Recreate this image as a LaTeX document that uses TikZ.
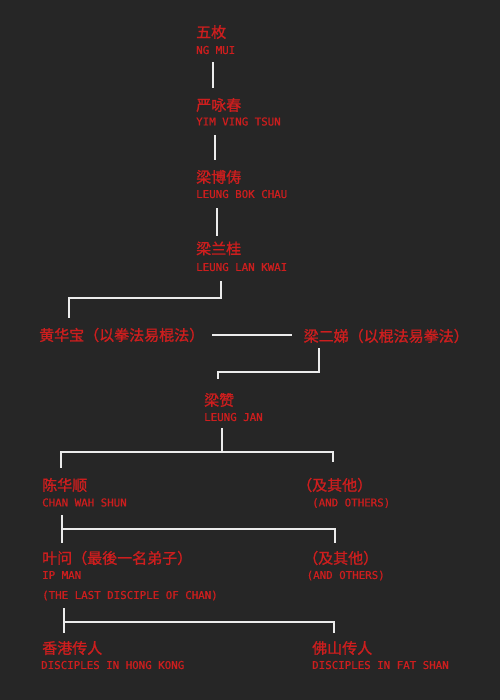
\documentclass[tikz,border=0pt]{standalone}
\usepackage{fontspec}
\usepackage{tikz}
\usetikzlibrary{positioning, calc}
\newfontfamily\zhfont[FakeBold=1.2]{Noto Sans CJK SC}
\newfontfamily\enfont[FakeBold=0.7]{DejaVu Sans Mono}
\definecolor{bgdark}{RGB}{38,38,38}
\definecolor{namered}{RGB}{205,30,30}
\definecolor{linewhite}{RGB}{235,235,235}

\begin{document}
\begin{tikzpicture}[x=1pt, y=-1pt,
    zh/.style={anchor=west, inner sep=0pt, text=namered,
        font=\zhfont\fontsize{15}{15}\selectfont, text height=13.2pt, text depth=1.8pt},
    en/.style={anchor=west, inner sep=0pt, text=namered,
        font=\enfont\fontsize{10.8}{10.8}\selectfont, text height=7.9pt, text depth=0pt},
    link/.style={draw=linewhite, line width=2pt}]
    \fill[bgdark] (0,0) rectangle (500,700);

    % the early line, one master after the other
    \node[zh] (ngmui) at (196,32) {五枚};
    \node[en] (ngmuiE) at (196,50) {NG MUI};
    \node[zh] (yim) at (196,105) {严咏春};
    \node[en] (yimE) at (196,121.5) {YIM VING TSUN};
    \node[zh] (bokchau) at (196,177) {梁博俦};
    \node[en] (bokchauE) at (196,194) {LEUNG BOK CHAU};
    \node[zh] (lankwai) at (196,248.5) {梁兰桂};
    \node[en] (lankwaiE) at (196,267) {LEUNG LAN KWAI};

    \draw[link, shorten <=8pt, shorten >=9.5pt]
        ([xshift=17pt]ngmuiE.south west) -- ([xshift=17pt]yim.north west);
    \draw[link, shorten <=9.5pt, shorten >=9.5pt]
        ([xshift=19pt]yimE.south west) -- ([xshift=19pt]bokchau.north west);
    \draw[link, shorten <=10pt, shorten >=5pt]
        ([xshift=21pt]bokchauE.south west) -- ([xshift=21pt]lankwai.north west);

    % the two who swapped their methods
    \node[zh] (wongwahbo) at (39,335) {黄华宝（以拳法易棍法）};
    \node[zh] (leungyitai) at (303.5,336) {梁二娣（以棍法易拳法）};

    \draw[link] ([xshift=25pt,yshift=-10pt]lankwaiE.south west) -- ++(0,17)
        -| ([xshift=30pt,yshift=9.5pt]wongwahbo.north west);
    \draw[link, shorten <=8pt, shorten >=11.5pt]
        (wongwahbo.east) -- (leungyitai.west |- wongwahbo.east);

    \node[zh] (leungjan) at (204,400) {梁赞};
    \node[en] (leungjanE) at (204,417) {LEUNG JAN};

    \draw[link] ([xshift=15.5pt,yshift=-4.5pt]leungyitai.south west) -- ++(0,24)
        -| ([xshift=14pt,yshift=13.5pt]leungjan.north west);

    % students of Leung Jan
    \node[zh] (chan) at (42,485) {陈华顺};
    \node[en] (chanE) at (42,502.5) {CHAN WAH SHUN};
    \node[zh] (others1) at (297,485) {（及其他）};
    \node[en] (others1E) at (312,502.5) {(AND OTHERS)};

    \draw[link] ([xshift=18pt,yshift=-7pt]leungjanE.south west) -- ++(0,24) coordinate (fork1);
    \draw[link] ([xshift=19pt,yshift=9.5pt]chan.north west) |- (fork1)
        -| ([xshift=36pt,yshift=15pt]others1.north west);

    % students of Chan Wah Shun
    \node[zh] (ipman) at (42,558) {叶问（最後一名弟子）};
    \node[en] (ipmanE) at (42,575) {IP MAN};
    \node[en] (lastE) at (42,595) {(THE LAST DISCIPLE OF CHAN)};
    \node[zh] (others2) at (303,558) {（及其他）};
    \node[en] (others2E) at (306.5,575) {(AND OTHERS)};

    \draw[link] ([xshift=20pt,yshift=-8.5pt]chanE.south west) -- ([xshift=20pt,yshift=7.5pt]ipman.north west);
    \draw[link] ([xshift=20pt,yshift=-22.5pt]chanE.south west)
        -| ([xshift=32pt,yshift=7.5pt]others2.north west);

    % students of Ip Man
    \node[zh] (hk) at (42,648) {香港传人};
    \node[en] (hkE) at (41,665) {DISCIPLES IN HONG KONG};
    \node[zh] (fatshan) at (312,648) {佛山传人};
    \node[en] (fatshanE) at (312,665) {DISCIPLES IN FAT SHAN};

    \draw[link] ([xshift=22pt,yshift=-9pt]lastE.south west) -- ([xshift=22pt,yshift=7.5pt]hk.north west);
    \draw[link] ([xshift=22pt,yshift=-23pt]lastE.south west)
        -| ([xshift=22pt,yshift=7.5pt]fatshan.north west);
\end{tikzpicture}
\end{document}
